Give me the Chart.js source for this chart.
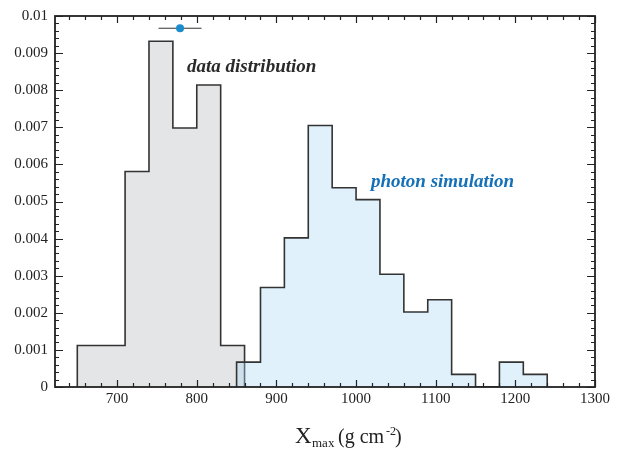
<!DOCTYPE html>
<html>
<head>
<meta charset="utf-8">
<script src="https://cdn.jsdelivr.net/npm/chart.js@4.4.1/dist/chart.umd.min.js"></script>
<style>
  html, body { margin: 0; padding: 0; background: #ffffff; }
  #wrap { width: 623px; height: 452px; position: relative; }
</style>
</head>
<body>
<div id="wrap"><canvas id="c" width="623" height="452"></canvas></div>
<script>
// ---- data ----
const dataBinEdges = [650, 680, 710, 740, 770, 800, 830, 860];
const dataValues = [0.00112, 0.00112, 0.00581, 0.00932, 0.00698, 0.00814, 0.00112];

const photonBinEdges = [850, 880, 910, 940, 970, 1000, 1030, 1060, 1090, 1120, 1150, 1180, 1210, 1240];
const photonValues = [0.00067, 0.00268, 0.00402, 0.00705, 0.00537, 0.00505, 0.00304, 0.00202, 0.00235, 0.00034, 0, 0.00067, 0.00034];

const markerX = [779];
const markerXErr = [27];
const markerY = [0.00967];

const xTickValues = [700, 800, 900, 1000, 1100, 1200, 1300];
const xTickLabels = ['700', '800', '900', '1000', '1100', '1200', '1300'];
const yTickValues = [0, 0.001, 0.002, 0.003, 0.004, 0.005, 0.006, 0.007, 0.008, 0.009, 0.01];
const yTickLabels = ['0', '0.001', '0.002', '0.003', '0.004', '0.005', '0.006', '0.007', '0.008', '0.009', '0.01'];

const labelData = 'data distribution';
const labelPhoton = 'photon simulation';

// ---- helpers ----
function histPoints(edges, vals) {
  const pts = [{ x: edges[0], y: 0 }];
  for (let i = 0; i < vals.length; i++) pts.push({ x: edges[i], y: vals[i] });
  pts.push({ x: edges[edges.length - 1], y: 0 });
  return pts;
}

const SERIF = '"Liberation Serif", "DejaVu Serif", serif';

const framePlugin = {
  id: 'frame',
  afterDatasetsDraw(chart) {
    const { ctx, chartArea: a, scales } = chart;
    const xs = scales.x, ys = scales.y;
    ctx.save();
    ctx.strokeStyle = '#222';
    ctx.lineWidth = 1.2;
    ctx.beginPath();
    // x ticks (top & bottom), inward
    for (let v = 640; v <= 1300; v += 20) {
      const px = Math.round(xs.getPixelForValue(v)) + 0.5;
      const len = (v % 100 === 0) ? 7 : 4;
      ctx.moveTo(px, a.bottom); ctx.lineTo(px, a.bottom - len);
      ctx.moveTo(px, a.top); ctx.lineTo(px, a.top + len);
    }
    // y ticks (left & right), inward
    for (let k = 0; k <= 50; k++) {
      const v = k * 0.0002;
      const py = Math.round(ys.getPixelForValue(v)) + 0.5;
      const len = (k % 5 === 0) ? 8 : 4;
      ctx.moveTo(a.left, py); ctx.lineTo(a.left + len, py);
      ctx.moveTo(a.right, py); ctx.lineTo(a.right - len, py);
    }
    ctx.stroke();
    ctx.lineWidth = 1.8;
    ctx.strokeRect(a.left, a.top, a.right - a.left, a.bottom - a.top);

    // annotations
    ctx.textBaseline = 'alphabetic';
    ctx.textAlign = 'left';
    ctx.font = 'italic bold 19px ' + SERIF;
    ctx.fillStyle = '#2a2a2a';
    ctx.fillText(labelData, 187, 72);
    ctx.fillStyle = '#1570b8';
    ctx.fillText(labelPhoton, 371, 187);

    // axis title: X_max (g cm^-2)
    ctx.fillStyle = '#222';
    ctx.font = '23px ' + SERIF;
    ctx.fillText('X', 295, 443);
    ctx.font = '13px ' + SERIF;
    ctx.fillText('max', 312, 447);
    ctx.font = '20px ' + SERIF;
    ctx.fillText('(g cm', 338, 443);
    ctx.font = '12px ' + SERIF;
    ctx.fillText('-2', 386, 435);
    ctx.font = '20px ' + SERIF;
    ctx.fillText(')', 395, 443);
    ctx.restore();
  }
};

const chart = new Chart(document.getElementById('c'), {
  type: 'line',
  data: {
    datasets: [
      {
        label: 'marker',
        data: [{ x: markerX[0], y: markerY[0] }],
        showLine: false,
        pointRadius: 4,
        pointBackgroundColor: '#1b8ccc',
        pointBorderWidth: 0,
        order: 0
      },
      {
        label: 'error',
        data: [{ x: markerX[0] - markerXErr[0], y: markerY[0] }, { x: markerX[0] + markerXErr[0], y: markerY[0] }],
        borderColor: '#333',
        borderWidth: 1,
        pointRadius: 0,
        fill: false,
        order: 1
      },
      {
        label: 'photon simulation',
        data: histPoints(photonBinEdges, photonValues),
        stepped: 'before',
        borderColor: '#333',
        borderWidth: 1.6,
        pointRadius: 0,
        fill: 'origin',
        backgroundColor: 'rgba(171,217,244,0.37)',
        order: 2
      },
      {
        label: 'data distribution',
        data: histPoints(dataBinEdges, dataValues),
        stepped: 'before',
        borderColor: '#333',
        borderWidth: 1.6,
        pointRadius: 0,
        fill: 'origin',
        backgroundColor: '#e4e5e7',
        order: 3
      }
    ]
  },
  options: {
    responsive: false,
    animation: false,
    devicePixelRatio: 1,
    layout: { padding: { left: 0, top: 14, right: 28, bottom: 0 } },
    plugins: { legend: { display: false }, tooltip: { enabled: false } },
    scales: {
      x: {
        type: 'linear',
        min: 622,
        max: 1300,
        grid: { display: false, drawTicks: false },
        border: { display: false },
        afterFit(s) { s.height = 65; },
        afterBuildTicks(s) { s.ticks = xTickValues.map(v => ({ value: v })); },
        ticks: {
          padding: 3,
          color: '#222',
          font: { family: SERIF, size: 15 },
          maxRotation: 0,
          autoSkip: false,
          callback(v) { const i = xTickValues.indexOf(v); return i >= 0 ? xTickLabels[i] : ''; }
        }
      },
      y: {
        type: 'linear',
        min: 0,
        max: 0.01,
        grid: { display: false, drawTicks: false },
        border: { display: false },
        afterFit(s) { s.width = 55; },
        afterBuildTicks(s) { s.ticks = yTickValues.map(v => ({ value: v })); },
        ticks: {
          padding: 7,
          color: '#222',
          font: { family: SERIF, size: 15 },
          autoSkip: false,
          callback(v) {
            let best = 0, d = Infinity;
            yTickValues.forEach((t, i) => { if (Math.abs(t - v) < d) { d = Math.abs(t - v); best = i; } });
            return yTickLabels[best];
          }
        }
      }
    }
  },
  plugins: [framePlugin]
});
</script>
</body>
</html>
